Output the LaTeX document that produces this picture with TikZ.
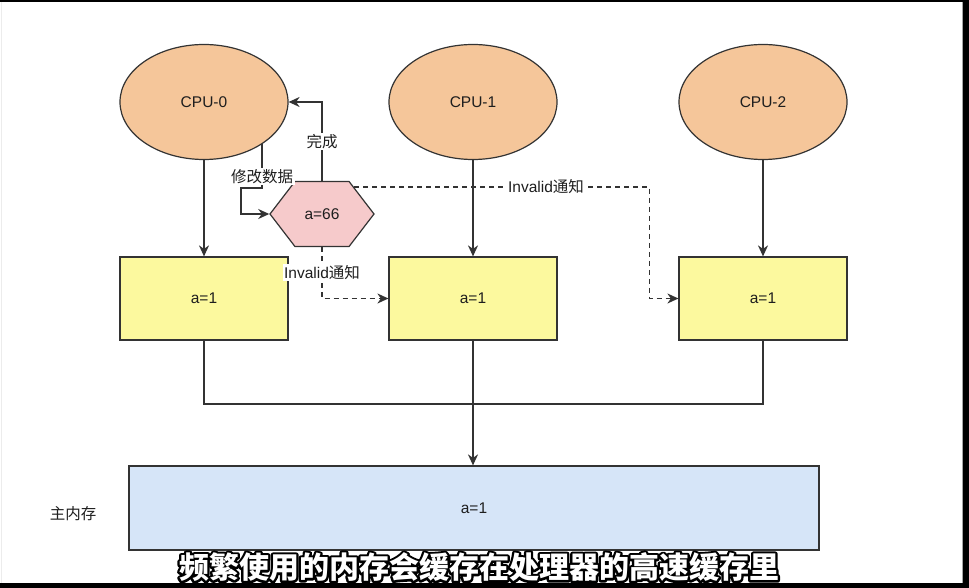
\documentclass[tikz,border=0pt]{standalone}
\usepackage{fontspec}
\setmainfont{Liberation Sans}
\newfontfamily\cjk{Noto Sans CJK SC}
\usetikzlibrary{shapes.geometric,shapes.symbols,arrows.meta}

\definecolor{cpufill}{HTML}{F5C69A}
\definecolor{cachefill}{HTML}{FCF99E}
\definecolor{hexfill}{HTML}{F6CACB}
\definecolor{memfill}{HTML}{D6E5F8}
\definecolor{edge}{HTML}{333333}
\definecolor{ink}{HTML}{1E1E1E}

% stroked glyph outlines for the caption underlay
\newcommand{\strokedtext}[1]{%
  \special{pdf:literal 2 Tr 1 j 4.6 w 0 0 0 RG}#1\special{pdf:literal 0 Tr}}

\tikzset{
  cpu/.style={ellipse, draw=edge, line width=1.2pt, fill=cpufill,
    minimum width=168pt, minimum height=115pt, inner sep=0pt, text=ink},
  cache/.style={rectangle, draw=edge, line width=1.2pt, fill=cachefill,
    minimum width=168pt, minimum height=83pt, inner sep=0pt, text=ink},
  hexa/.style={signal, signal to=west and east, signal pointer angle=105,
    draw=edge, line width=1.2pt, fill=hexfill,
    minimum width=104pt, minimum height=65pt, inner sep=0pt, text=ink},
  memory/.style={rectangle, draw=edge, line width=1.2pt, fill=memfill,
    minimum width=690pt, minimum height=84pt, inner sep=0pt, text=ink},
  link/.style={draw=edge, line width=1.4pt},
  arr/.style={link, -{Stealth[length=11pt,width=10pt,inset=3.5pt]}},
  dashlink/.style={arr, dash pattern=on 5pt off 4pt},
  tag/.style={fill=white, inner sep=1.5pt, text=ink},
  subtxt/.style={font=\cjk\bfseries\fontsize{30}{34}\selectfont, inner sep=0pt},
}

\begin{document}
\begin{tikzpicture}[x=1pt, y=-1pt, font=\fontsize{15.5}{18}\selectfont]
  \useasboundingbox (0,0) rectangle (969,588);
  \fill[white] (0,0) rectangle (969,588);

  % processors
  \node[cpu] (c0) at (204,102) {CPU-0};
  \node[cpu] (c1) at (473,102) {CPU-1};
  \node[cpu] (c2) at (763,102) {CPU-2};

  % caches
  \node[cache] (b0) at (204,298.5) {a=1};
  \node[cache] (b1) at (473,298.5) {a=1};
  \node[cache] (b2) at (763,298.5) {a=1};

  % modified value in CPU-0
  \node[hexa] (h) at (322,214) {a=66};

  % main memory
  \node[memory] (mem) at (474,508) {a=1};
  \node[text=ink] (memlabel) at (73,514) {\cjk 主内存};

  % processor to cache
  \draw[arr] (c0.south) -- (c0.south |- b0.north);
  \draw[arr] (c1.south) -- (c1.south |- b1.north);
  \draw[arr] (c2.south) -- (c2.south |- b2.north);

  % write path and completion
  \coordinate (m1) at (241,188);
  \draw[arr] (c0.-36) |- node[pos=0.37, tag] (lm) {\cjk 修改数据} (m1) |- (h.west);
  \draw[arr] (h.north) |- node[pos=0.25, tag] (ld) {\cjk 完成} (c0.east);

  % invalidation messages
  \draw[dashlink] (h.40) -| node[pos=0.325, tag] (li1) {Invalid{\cjk 通知}}
    ([xshift=-29pt]b2.west) -- (b2.west);
  \draw[dashlink] (h.south) |- node[pos=0.25, tag] (li2) {Invalid{\cjk 通知}} (b1.west);

  % caches to memory bus
  \coordinate (bus) at (473,404);
  \draw[link] (b0.south) |- (bus) -| (b2.south);
  \draw[arr] (b1.south) -- (b1.south |- mem.north);

  % caption: black stroked underlay, white text on top
  \node[subtxt, text=black] (capshadow) at (479,567)
      {\strokedtext{频繁使用的内存会缓存在处理器的高速缓存里}};
  \node[subtxt, text=white] (caption) at (479,567)
      {频繁使用的内存会缓存在处理器的高速缓存里};

  % frame
  \fill[black] (0,0) rectangle (969,2.5);
  \fill[black] (963,0) rectangle (969,588);
  \fill[black] (0,583) rectangle (969,588);
  \draw[gray!70, line width=1pt] (962,2.5) -- (962,583);
  \draw[gray!15, line width=1pt] (1.5,2.5) -- (1.5,583);
\end{tikzpicture}
\end{document}
